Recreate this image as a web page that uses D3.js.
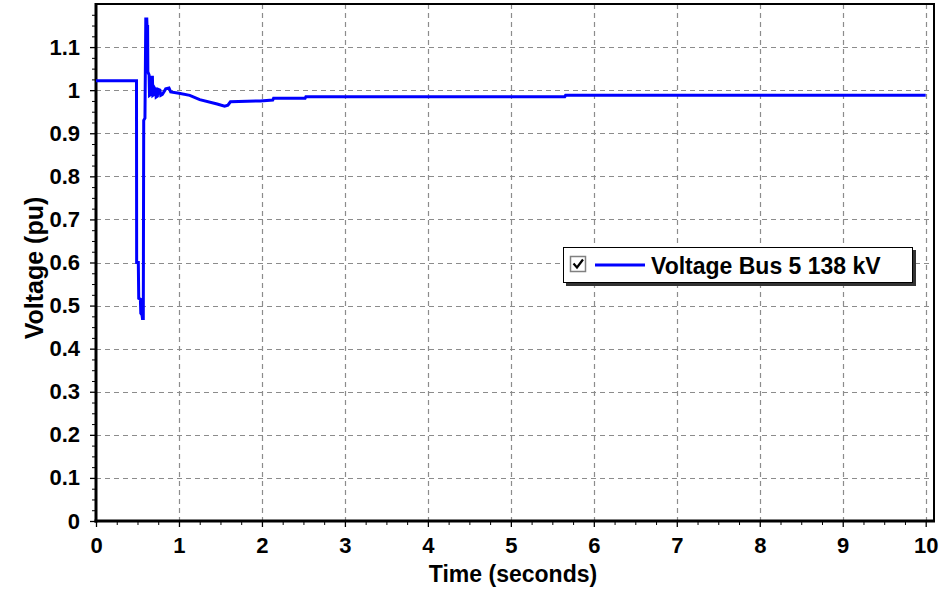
<!DOCTYPE html>
<html>
<head>
<meta charset="utf-8">
<script src="https://cdn.jsdelivr.net/npm/d3@7"></script>
<style>
  html, body { margin: 0; padding: 0; background: #fff; }
  svg { display: block; font-family: "Liberation Sans", Arial, sans-serif; }
</style>
</head>
<body>
<svg id="chart" width="948" height="591"></svg>
<script>
// Bus voltage after a fault event (transient stability run)
const timeSec = [
  0, 0.488, 0.49, 0.51, 0.515, 0.535, 0.54, 0.555, 0.56, 0.57,
  0.575, 0.59, 0.60, 0.612, 0.615, 0.622, 0.625, 0.64, 0.645, 0.66,
  0.662, 0.68, 0.685, 0.70, 0.705, 0.72, 0.725, 0.74, 0.745, 0.77,
  0.78, 0.80, 0.84, 0.88, 0.90, 1.0, 1.13, 1.25, 1.46, 1.55,
  1.59, 1.62, 1.98, 2.13, 2.14, 2.52, 2.53, 5.65, 5.66, 10.0
];
const voltagePu = [
  1.022, 1.022, 0.600, 0.600, 0.517, 0.515, 0.482, 0.478, 0.470, 0.470,
  0.930, 0.935, 1.165, 1.165, 1.148, 1.148, 1.043, 1.035, 0.988, 0.990,
  1.030, 1.030, 0.988, 0.990, 1.005, 1.000, 0.984, 0.986, 1.002, 1.000,
  0.988, 0.990, 1.003, 1.005, 0.996, 0.993, 0.988, 0.978, 0.968, 0.963,
  0.965, 0.973, 0.975, 0.977, 0.981, 0.981, 0.985, 0.985, 0.988, 0.988
];
const xTickValues = [0, 1, 2, 3, 4, 5, 6, 7, 8, 9, 10];
const yTickValues = [0, 0.1, 0.2, 0.3, 0.4, 0.5, 0.6, 0.7, 0.8, 0.9, 1.0, 1.1];
const yTickLabels = ["0", "0.1", "0.2", "0.3", "0.4", "0.5", "0.6", "0.7", "0.8", "0.9", "1", "1.1"];
const xMinorStep = 0.25;
const yMinorStep = 0.025;
const seriesName = "Voltage Bus 5 138 kV";
const xTitle = "Time (seconds)";
const yTitle = "Voltage (pu)";

const svg = d3.select("#chart");
const plot = { left: 96, right: 934, top: 4, bottom: 521 };

const x = d3.scaleLinear().domain([0, 10.1]).range([plot.left, plot.right]);
const y = d3.scaleLinear().domain([0, 1.2]).range([plot.bottom, plot.top]);

const xMinor = d3.range(0, 10.1 + 1e-9, xMinorStep).filter(v => Math.abs(v - Math.round(v)) > 1e-6);
const yMinor = d3.range(0, 1.2 + 1e-9, yMinorStep).filter(v => Math.abs(v * 10 - Math.round(v * 10)) > 1e-6);

// dashed grid
const grid = svg.append("g")
  .attr("stroke", "#8c8c8c")
  .attr("stroke-width", 1.2)
  .attr("stroke-dasharray", "5,4");
grid.selectAll("line.v").data(xTickValues.filter(v => v > 0)).join("line")
  .attr("class", "v")
  .attr("x1", d => Math.round(x(d)) + 0.5).attr("x2", d => Math.round(x(d)) + 0.5)
  .attr("y1", plot.top).attr("y2", plot.bottom);
grid.selectAll("line.h").data(yTickValues.filter(v => v > 0)).join("line")
  .attr("class", "h")
  .attr("y1", d => Math.round(y(d)) + 0.5).attr("y2", d => Math.round(y(d)) + 0.5)
  .attr("x1", plot.left).attr("x2", plot.right);

// frame
svg.append("rect")
  .attr("x", plot.left).attr("y", plot.top)
  .attr("width", plot.right - plot.left).attr("height", plot.bottom - plot.top)
  .attr("fill", "none").attr("stroke", "#000").attr("stroke-width", 2);

// axes: major and minor ticks
const tickFont = g => g.selectAll("text")
  .attr("font-size", 22).attr("font-weight", "bold").attr("fill", "#000")
  .attr("font-family", "'Liberation Sans', Arial, sans-serif");

svg.append("g")
  .attr("transform", `translate(0,${plot.bottom})`)
  .call(d3.axisBottom(x).tickValues(xTickValues).tickFormat(d3.format("d")).tickSize(6).tickPadding(10))
  .call(g => g.select(".domain").remove())
  .call(g => g.selectAll("line").attr("stroke", "#000").attr("stroke-width", 1.3))
  .call(tickFont);
svg.append("g")
  .attr("transform", `translate(0,${plot.bottom})`)
  .call(d3.axisBottom(x).tickValues(xMinor).tickFormat("").tickSize(4))
  .call(g => g.select(".domain").remove())
  .call(g => g.selectAll("line").attr("stroke", "#000").attr("stroke-width", 1));

svg.append("g")
  .attr("transform", `translate(${plot.left},0)`)
  .call(d3.axisLeft(y).tickValues(yTickValues).tickFormat((d, i) => yTickLabels[i]).tickSize(6).tickPadding(10))
  .call(g => g.select(".domain").remove())
  .call(g => g.selectAll("line").attr("stroke", "#000").attr("stroke-width", 1.3))
  .call(tickFont);
svg.append("g")
  .attr("transform", `translate(${plot.left},0)`)
  .call(d3.axisLeft(y).tickValues(yMinor).tickFormat("").tickSize(4))
  .call(g => g.select(".domain").remove())
  .call(g => g.selectAll("line").attr("stroke", "#000").attr("stroke-width", 1));

// heavy left and bottom axis lines
svg.append("line")
  .attr("x1", plot.left).attr("x2", plot.left)
  .attr("y1", plot.top - 1).attr("y2", plot.bottom + 1.5)
  .attr("stroke", "#000").attr("stroke-width", 3);
svg.append("line")
  .attr("x1", plot.left - 1.5).attr("x2", plot.right + 1)
  .attr("y1", plot.bottom).attr("y2", plot.bottom)
  .attr("stroke", "#000").attr("stroke-width", 3);

// series
const pts = timeSec.map((t, i) => [t, voltagePu[i]]);
svg.append("path")
  .datum(pts)
  .attr("fill", "none")
  .attr("stroke", "#0000ff")
  .attr("stroke-width", 3)
  .attr("stroke-linejoin", "miter")
  .attr("d", d3.line().x(d => x(d[0])).y(d => y(d[1])));

// axis titles
svg.append("text")
  .attr("x", (plot.left + plot.right) / 2 - 2).attr("y", 582)
  .attr("text-anchor", "middle")
  .attr("font-size", 23).attr("font-weight", "bold")
  .text(xTitle);
svg.append("text")
  .attr("transform", "translate(43,268) rotate(-90)")
  .attr("text-anchor", "middle")
  .attr("font-size", 25).attr("font-weight", "bold")
  .text(yTitle);

// legend
const lg = svg.append("g").attr("transform", "translate(563,247)");
lg.append("rect").attr("x", 3).attr("y", 3).attr("width", 350).attr("height", 36).attr("fill", "#333");
lg.append("rect").attr("x", 0.5).attr("y", 0.5).attr("width", 349).attr("height", 35)
  .attr("fill", "#fff").attr("stroke", "#000").attr("stroke-width", 1);
lg.append("rect").attr("x", 7.5).attr("y", 9.5).attr("width", 15).attr("height", 15)
  .attr("fill", "#fff").attr("stroke", "#808080").attr("stroke-width", 1.5);
lg.append("path").attr("d", "M10.5,16.5 L14,20.5 L20,12.5")
  .attr("fill", "none").attr("stroke", "#000").attr("stroke-width", 2.2);
lg.append("line").attr("x1", 32).attr("x2", 82).attr("y1", 18).attr("y2", 18)
  .attr("stroke", "#0000ff").attr("stroke-width", 3);
lg.append("text").attr("x", 88).attr("y", 27)
  .attr("font-size", 23).attr("font-weight", "bold")
  .text(seriesName);
</script>
</body>
</html>
